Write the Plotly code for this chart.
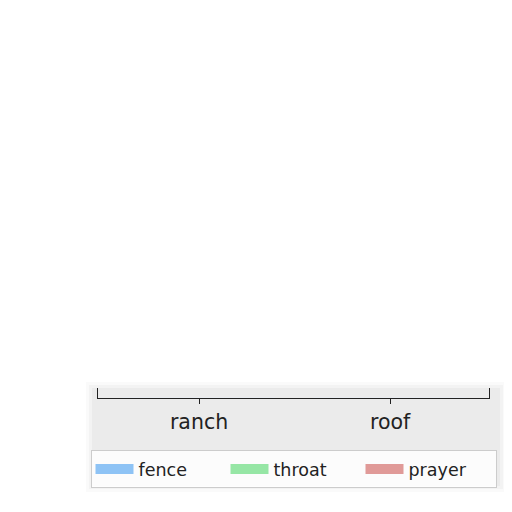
import plotly.graph_objects as go

categories = ['ranch', 'roof']
series_names = ['fence', 'throat', 'prayer']
series_colors = ['#8ec3f5', '#96e6a5', '#e09a98']
# no bars are visible in the picture, so every value reads as zero
fence = [0, 0]
throat = [0, 0]
prayer = [0, 0]
values = [fence, throat, prayer]

# the page body adds an 8px margin, so the figure is drawn 8px smaller
W, H = 504, 504
# plot box in figure pixels: left, right, top, bottom
PL, PR, PT, PB = 90, 481, 380, 390


def px_x(v):
    return v / W


def px_y(v):
    return 1 - v / H


fig = go.Figure()

for name, vals, color in zip(series_names, values, series_colors):
    fig.add_trace(go.Bar(x=categories, y=vals, name=name, marker_color=color,
                         legendgroup=name, showlegend=False))
    # wide swatch for the legend
    fig.add_trace(go.Scatter(x=[None], y=[None], mode='lines', name=name,
                             line=dict(color=color, width=11), legendgroup=name))

# soft grey halo behind axis and legend
for pad, alpha in [(8, 0.04), (5, 0.05), (2, 0.06)]:
    fig.add_shape(type='rect', xref='paper', yref='paper', layer='below',
                  x0=px_x(86 - pad), x1=px_x(490 + pad),
                  y0=px_y(382 - pad), y1=px_y(476 + pad),
                  line_width=0, fillcolor='rgba(120,120,120,%.2f)' % alpha)

fig.update_layout(
    width=W, height=H,
    margin=dict(l=0, r=0, t=0, b=0, autoexpand=False),
    plot_bgcolor='rgba(0,0,0,0)',
    paper_bgcolor='white',
    barmode='group',
    font=dict(family='DejaVu Sans', color='#222222'),
    showlegend=True,
    legend=dict(orientation='h', y=px_y(442), yanchor='top',
                x=px_x(285.5), xanchor='center', font=dict(size=17.5),
                bgcolor='rgba(255,255,255,0.85)', bordercolor='#cccccc', borderwidth=1,
                entrywidth=82, itemwidth=38),
)
fig.update_xaxes(domain=[px_x(PL), px_x(PR)],
                 showline=True, linecolor='#222222', linewidth=1, mirror=False,
                 ticks='outside', ticklen=5, tickcolor='#222222', automargin=False,
                 range=[-0.529, 1.518],
                 tickfont=dict(size=20.5), showgrid=False, zeroline=False)
fig.update_yaxes(domain=[px_y(PB), px_y(PT)],
                 showline=True, linecolor='#222222', linewidth=1, mirror=True,
                 showticklabels=False, ticks='', showgrid=False, zeroline=False,
                 automargin=False, range=[0, 1])

fig.write_html('out.html')
